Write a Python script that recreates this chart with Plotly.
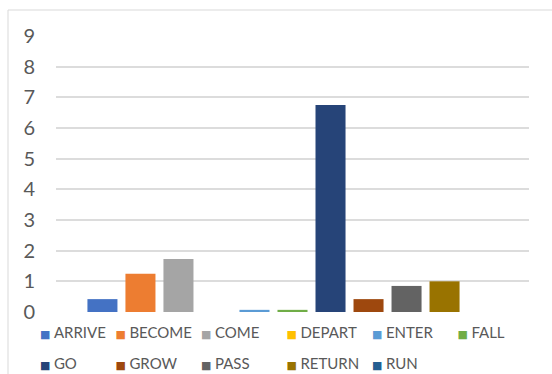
import plotly.graph_objects as go

verbs = ["ARRIVE", "BECOME", "COME", "DEPART", "ENTER", "FALL",
         "GO", "GROW", "PASS", "RETURN", "RUN"]
values = [0.42, 1.25, 1.73, 0.0, 0.07, 0.07, 6.75, 0.42, 0.85, 1.0, 0.0]
colors = ["#4472C4", "#ED7D31", "#A5A5A5", "#FFC000", "#5B9BD5", "#70AD47",
          "#264478", "#9E480E", "#636363", "#997300", "#255E91"]
y_ticks = list(range(0, 10))

W, H = 552, 374
ML, MR, MT, MB = 56, 23, 36, 62
FONT = "Lato, 'Open Sans', sans-serif"
GREY = "#595959"
COL = 85.5           # legend column pitch
LX0 = -10            # legend left (text starts 40px further right)
ROWS = [332, 363]    # legend row centres
PER_ROW = 6

fig = go.Figure()
legends = {}
for i, (name, v, c) in enumerate(zip(verbs, values, colors)):
    lid = "legend" if i == 0 else "legend%d" % (i + 1)
    fig.add_trace(go.Bar(x=[""], y=[v], name=name, marker_color=c,
                         marker_line_width=0, showlegend=False,
                         legendgroup=name))
    label = ('<span style="color:%s;font-family:\'DejaVu Sans\';font-size:11px">'
             '\u25A0 </span>%s' % (c, name))
    fig.add_trace(go.Scatter(x=[None], y=[None], mode="markers", name=label,
                             marker=dict(symbol="square", size=1,
                                         color="rgba(0,0,0,0)",
                                         line=dict(width=0)),
                             legendgroup=name, legend=lid, showlegend=True))
    col, row = i % PER_ROW, i // PER_ROW
    legends[lid] = dict(orientation="h", xref="container", yref="container",
                        xanchor="left", yanchor="middle",
                        x=(LX0 + col * COL) / W, y=(H - ROWS[row]) / H,
                        itemwidth=30,
                        font=dict(family=FONT, size=15, color=GREY),
                        bgcolor="rgba(0,0,0,0)", itemclick=False,
                        itemdoubleclick=False)

pw = W - ML - MR
ph = H - MT - MB
def px(x):
    return (x - ML) / pw
def py(y):
    return (H - MB - y) / ph

fig.add_shape(type="rect", xref="paper", yref="paper",
              x0=px(8), x1=px(W + 10), y0=py(H + 10), y1=py(10),
              line=dict(color="#D9D9D9", width=1), fillcolor="rgba(0,0,0,0)",
              layer="below")

fig.update_layout(
    width=W, height=H,
    margin=dict(l=ML, r=MR, t=MT, b=MB, autoexpand=False),
    paper_bgcolor="white", plot_bgcolor="white",
    barmode="group", bargap=0.116, bargroupgap=0.21,
    font=dict(family=FONT, color=GREY),
    xaxis=dict(showticklabels=False, showgrid=False, zeroline=False,
               showline=False, range=[-0.5, 0.5], fixedrange=True),
    yaxis=dict(range=[0, 9], tickvals=y_ticks, ticktext=[str(t) for t in y_ticks],
               showgrid=True, gridcolor="#DCDCDC", gridwidth=1.5,
               zeroline=False, showline=False, ticks="", ticklabelstandoff=20,
               tickfont=dict(family=FONT, size=20, color=GREY), fixedrange=True),
    **legends,
)

fig.write_html("out.html")
